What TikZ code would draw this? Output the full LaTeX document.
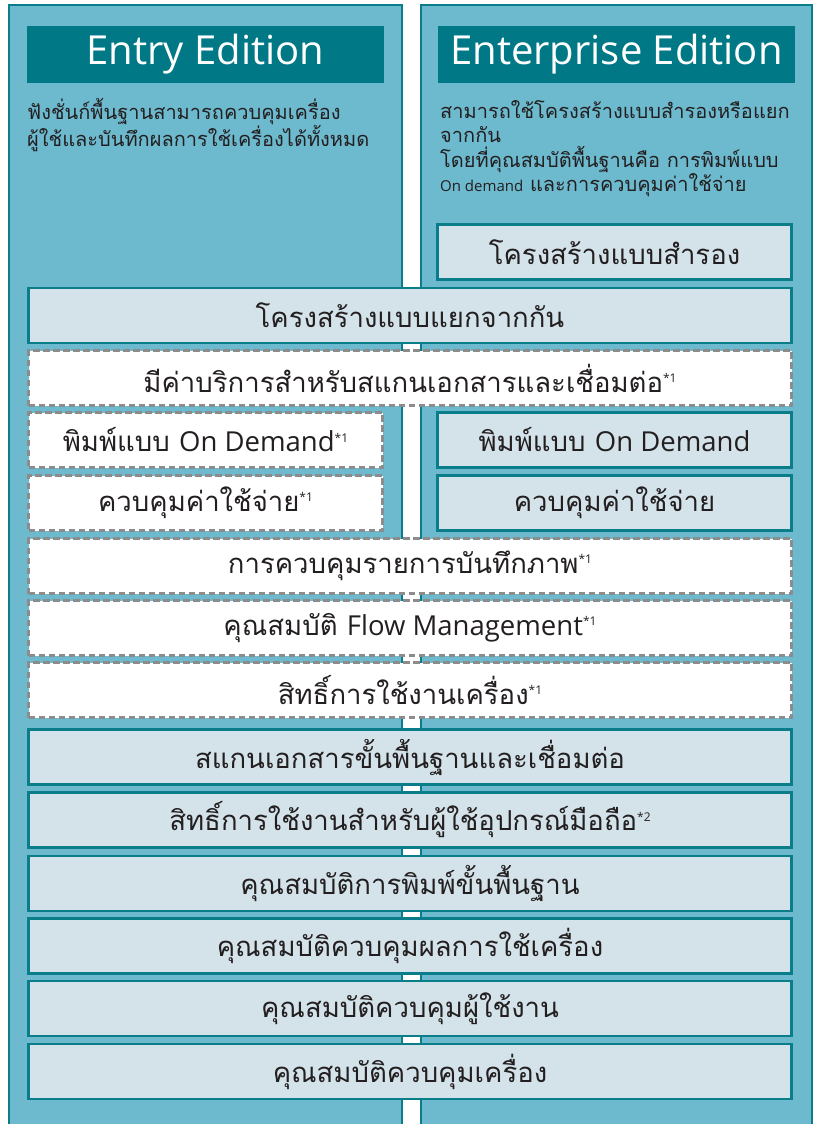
\documentclass[tikz,border=0pt]{standalone}
\usepackage{fontspec}
\usepackage{xcolor}
\setmainfont{Open Sans}
\newfontfamily\thaifont[Script=Thai]{Loma}

\definecolor{panelblue}{HTML}{6DB9CE}
\definecolor{edgeteal}{HTML}{0A7D8A}
\definecolor{headteal}{HTML}{007886}
\definecolor{boxgrey}{HTML}{D4E3EA}
\definecolor{dashgrey}{HTML}{8C8C8C}
\definecolor{ink}{HTML}{231F20}

\newcommand{\fnote}[1]{\raisebox{0.36em}{\rmfamily\fontsize{12}{12}\selectfont *#1}}

\begin{document}
\begin{tikzpicture}[x=1pt,y=-1pt,
                panel/.style={fill=panelblue,draw=edgeteal,line width=2pt},
                header/.style={fill=headteal,text=white,minimum width=357pt,minimum height=57pt,
                        inner sep=0pt,font=\fontsize{40}{42}\selectfont},
                feature/.style={draw=edgeteal,fill=boxgrey,line width=2.5pt,minimum height=55pt,
                        inner sep=0pt,text=ink,font=\fontsize{27.5}{30}\selectfont\thaifont},
                optional/.style={feature,draw=dashgrey,fill=white,dash pattern=on 6.5pt off 3.5pt},
                wide/.style={minimum width=763pt},
                half/.style={minimum width=354pt},
                note/.style={anchor=north west,align=left,text=ink,inner sep=0pt,
                        font=\fontsize{20}{24.5}\selectfont\thaifont}]
                \useasboundingbox (0,0) rectangle (814,1124);
                \clip (0,0) rectangle (814,1124);
                % two editions
                \draw[panel] (9,5) rectangle (402,1140);
                \draw[panel] (421,5) rectangle (812,1140);
                \node[header] (entry) at (205.5,54.5) {Entry Edition};
                \node[header] (enterprise) at (616.5,54.5) {Enterprise Edition};
                \node[note] (entrynote) at (27,98) {ฟังชั่นก์พื้นฐานสามารถควบคุมเครื่อง\\
                        ผู้ใช้และบันทึกผลการใช้เครื่องได้ทั้งหมด};
                \node[note] (enterprisenote) at (440,100) {สามารถใช้โครงสร้างแบบสำรองหรือแยก\\
                        จากกัน\\
                        โดยที่คุณสมบัติพื้นฐานคือ การพิมพ์แบบ\\
                        {\rmfamily\fontsize{15}{24.5}\selectfont On demand} และการควบคุมค่าใช้จ่าย};
                % features
                \node[feature,half] (backup) at (614.5,252) {โครงสร้างแบบสำรอง};
                \node[feature,wide] (separate) at (410,315.5) {โครงสร้างแบบแยกจากกัน};
                \node[optional,wide] (scanfee) at (410,378) {มีค่าบริการสำหรับสแกนเอกสารและเชื่อมต่อ\fnote{1}};
                \node[optional,half] (ondemandA) at (205.5,440) {พิมพ์แบบ {\rmfamily On Demand}\fnote{1}};
                \node[feature,half] (ondemandB) at (614.5,440) {พิมพ์แบบ {\rmfamily On Demand}};
                \node[optional,half] (costA) at (205.5,503) {ควบคุมค่าใช้จ่าย\fnote{1}};
                \node[feature,half] (costB) at (614.5,503) {ควบคุมค่าใช้จ่าย};
                \node[optional,wide] (imagelog) at (410,566) {การควบคุมรายการบันทึกภาพ\fnote{1}};
                \node[optional,wide] (flow) at (410,628) {คุณสมบัติ {\rmfamily Flow Management}\fnote{1}};
                \node[optional,wide] (access) at (410,690) {สิทธิ์การใช้งานเครื่อง\fnote{1}};
                \node[feature,wide] (basicscan) at (410,757) {สแกนเอกสารขั้นพื้นฐานและเชื่อมต่อ};
                \node[feature,wide] (mobile) at (410,820) {สิทธิ์การใช้งานสำหรับผู้ใช้อุปกรณ์มือถือ\fnote{2}};
                \node[feature,wide] (basicprint) at (410,883.5) {คุณสมบัติการพิมพ์ขั้นพื้นฐาน};
                \node[feature,wide] (usagelog) at (410,946) {คุณสมบัติควบคุมผลการใช้เครื่อง};
                \node[feature,wide] (users) at (410,1008.5) {คุณสมบัติควบคุมผู้ใช้งาน};
                \node[feature,wide] (devices) at (410,1071.5) {คุณสมบัติควบคุมเครื่อง};
            \end{tikzpicture}
\end{document}
